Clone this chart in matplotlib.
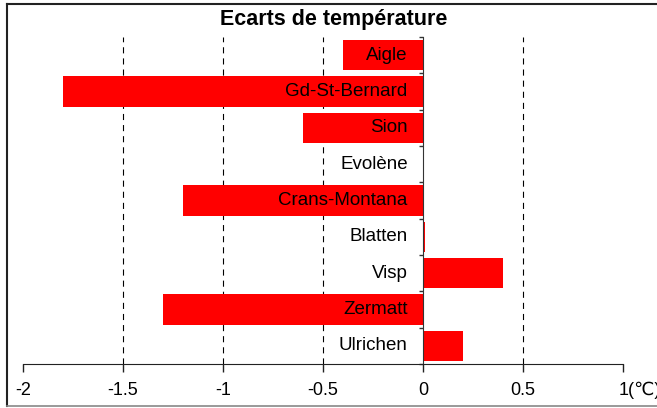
import matplotlib

matplotlib.use("Agg")
import matplotlib.pyplot as plt
import matplotlib.transforms as mtransforms
import numpy as np
from matplotlib.lines import Line2D

plt.rcParams["font.family"] = ["Liberation Sans", "DejaVu Sans"]

stations = ["Aigle", "Gd-St-Bernard", "Sion", "Evolène", "Crans-Montana",
            "Blatten", "Visp", "Zermatt", "Ulrichen"]
ecarts = [-0.4, -1.8, -0.6, 0.0, -1.2, 0.01, 0.4, -1.3, 0.2]
xticks = [-2, -1.5, -1, -0.5, 0, 0.5, 1]
xtick_labels = ["-2", "-1.5", "-1", "-0.5", "0", "0.5", "1(℃)"]
grid_x = [-1.5, -1, -0.5, 0.5]

W, H = 657, 408
fig = plt.figure(figsize=(W / 100, H / 100), dpi=100)
ax = fig.add_axes([23 / W, 44 / H, 600 / W, 327 / H])

pos = np.arange(len(stations))
ax.barh(pos, ecarts, height=0.83, color="#ff0000", edgecolor="none", zorder=2)

# lignes pointillées verticales
for gx in grid_x:
    ax.axvline(gx, color="black", lw=0.8, ls=(0, (5.5, 4.5)), zorder=1)

# étiquettes à gauche de l'axe 0
for i, name in enumerate(stations):
    ax.annotate(name, xy=(0, i), xytext=(-11, 0), textcoords="offset points",
                ha="right", va="center", fontsize=13.5, zorder=3)

ax.set_xlim(-2, 1)
ax.set_ylim(len(stations) - 0.5, -0.5)

ax.set_xticks(xticks)
ax.set_xticklabels(xtick_labels, fontsize=13)
ax.tick_params(axis="x", direction="out", length=6, width=1, pad=7, color="#222222")
# le "1" reste centré sur la graduation, l'unité déborde à droite
last = ax.get_xticklabels()[-1]
last.set_horizontalalignment("left")
last.set_transform(last.get_transform()
                   + mtransforms.ScaledTranslation(-4.5 / 100, 0, fig.dpi_scale_trans))

ax.spines["left"].set_position(("data", 0))
ax.spines["left"].set_color("#333333")
ax.spines["bottom"].set_color("#222222")
ax.spines["top"].set_visible(False)
ax.spines["right"].set_visible(False)
ax.set_yticks(np.arange(len(stations) + 1) - 0.5)
ax.set_yticklabels([])
ax.tick_params(axis="y", direction="out", length=3, width=1, color="#333333")

fig.text(334 / W, 1 - 20 / H, "Ecarts de température", ha="center", va="center",
         fontsize=15.5, fontweight="bold")

# cadre du graphique
fig.add_artist(Line2D([7 / W, 1], [1 - 4 / H, 1 - 4 / H], transform=fig.transFigure,
                      color="#222222", lw=1.5))
fig.add_artist(Line2D([7 / W, 7 / W], [2 / H, 1 - 4 / H], transform=fig.transFigure,
                      color="#222222", lw=1.5))
fig.add_artist(Line2D([7 / W, 1], [2 / H, 2 / H], transform=fig.transFigure,
                      color="#888888", lw=1.2))

fig.savefig("out.png", dpi=100)
